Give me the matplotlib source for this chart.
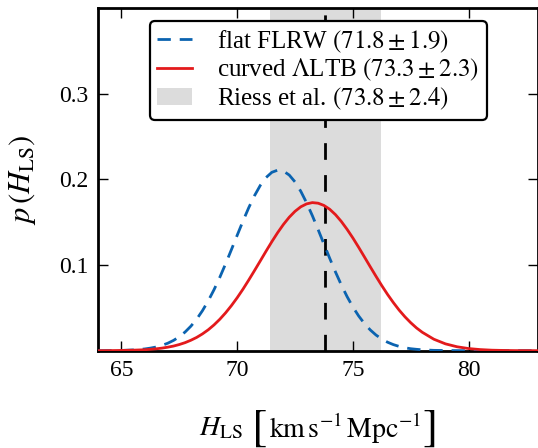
import matplotlib
matplotlib.use("Agg")
import matplotlib.pyplot as plt
from matplotlib.offsetbox import TextArea, HPacker, AnchoredOffsetbox

# values
h_grid = [64.0, 64.5, 65.0, 65.5,
          66.0, 66.25, 66.5, 66.75, 67.0, 67.25, 67.5, 67.75,
          68.0, 68.25, 68.5, 68.75, 69.0, 69.25, 69.5, 69.75,
          70.0, 70.25, 70.5, 70.75, 71.0, 71.25, 71.5, 71.75,
          72.0, 72.25, 72.5, 72.75, 73.0, 73.25, 73.5, 73.75,
          74.0, 74.25, 74.5, 74.75, 75.0, 75.25, 75.5, 75.75,
          76.0, 76.25, 76.5, 76.75, 77.0, 77.25, 77.5, 77.75,
          78.0, 78.5, 79.0, 79.5, 80.0, 80.5, 81.0, 81.5, 82.0, 82.5, 83.0]

p_flat = [0.0000, 0.0001, 0.0003, 0.0009,
          0.0020, 0.0030, 0.0043, 0.0062, 0.0087, 0.0120, 0.0163, 0.0218,
          0.0286, 0.0368, 0.0467, 0.0582, 0.0712, 0.0857, 0.1014, 0.1179,
          0.1347, 0.1513, 0.1670, 0.1811, 0.1931, 0.2023, 0.2084, 0.2109,
          0.2098, 0.2052, 0.1972, 0.1862, 0.1728, 0.1577, 0.1414, 0.1246,
          0.1079, 0.0919, 0.0769, 0.0632, 0.0511, 0.0406, 0.0317, 0.0243,
          0.0183, 0.0136, 0.0099, 0.0071, 0.0050, 0.0034, 0.0023, 0.0016,
          0.0010, 0.0004, 0.0002, 0.0001, 0.0000, 0.0000, 0.0000, 0.0000,
          0.0000, 0.0000, 0.0000]

p_curved = [0.0000, 0.0001, 0.0003, 0.0006,
            0.0011, 0.0016, 0.0022, 0.0030, 0.0041, 0.0054, 0.0072, 0.0094,
            0.0122, 0.0155, 0.0196, 0.0244, 0.0301, 0.0367, 0.0442, 0.0526,
            0.0618, 0.0718, 0.0825, 0.0936, 0.1049, 0.1163, 0.1274, 0.1379,
            0.1475, 0.1559, 0.1628, 0.1681, 0.1715, 0.1730, 0.1723, 0.1697,
            0.1652, 0.1589, 0.1510, 0.1418, 0.1317, 0.1208, 0.1095, 0.0981,
            0.0869, 0.0760, 0.0657, 0.0562, 0.0474, 0.0396, 0.0327, 0.0266,
            0.0215, 0.0134, 0.0080, 0.0046, 0.0025, 0.0013, 0.0006, 0.0003,
            0.0001, 0.0001, 0.0000]

riess_mean = 73.8
riess_sigma = 2.4

labels = [r"flat FLRW $(71.8 \pm 1.9)$",
          r"curved $\Lambda$LTB $(73.3 \pm 2.3)$",
          r"Riess et al. $(73.8 \pm 2.4)$"]

plt.rcParams["font.family"] = "serif"
plt.rcParams["font.serif"] = ["Liberation Serif", "DejaVu Serif"]
plt.rcParams["mathtext.fontset"] = "stix"

fig = plt.figure(figsize=(5.38, 4.48), dpi=100)
ax = fig.add_axes([0.1827, 0.2172, 0.8173, 0.7643])

ax.axvspan(riess_mean - riess_sigma, riess_mean + riess_sigma,
           color="#dcdcdc", lw=0, label=labels[2], zorder=1)
ax.axvline(riess_mean, color="k", lw=2, dashes=(6, 5.5), zorder=2)
ax.plot(h_grid, p_flat, color="#0b63b0", lw=2, dashes=(4.8, 3.2),
        label=labels[0], zorder=3)
ax.plot(h_grid, p_curved, color="#e31a1c", lw=2, label=labels[1], zorder=3)

ax.set_xlim(64, 83)
ax.set_ylim(0, 0.4)
ax.set_xticks([65, 70, 75, 80])
ax.set_yticks([0.1, 0.2, 0.3])
ax.tick_params(direction="in", top=True, right=True, length=7, width=1,
               labelsize=17, pad=7)
for s in ax.spines.values():
    s.set_linewidth(2)

ax.set_ylabel(r"$p\,(H_{\mathrm{LS}})$", fontsize=22, labelpad=15)

# x label with tall brackets
txt = dict(fontsize=20)
brk = dict(fontsize=33, family="STIXGeneral")
parts = [TextArea(r"$H_{\mathrm{LS}}$", textprops=txt),
         TextArea(" ", textprops=txt),
         TextArea("[", textprops=brk),
         TextArea(r"$\mathrm{km\,s^{-1}\,Mpc^{-1}}$", textprops=txt),
         TextArea("]", textprops=brk)]
xlab = HPacker(children=parts, align="center", pad=0, sep=1)
ax.add_artist(AnchoredOffsetbox(loc="center", child=xlab, frameon=False,
                                bbox_to_anchor=(0.5, -0.228),
                                bbox_transform=ax.transAxes, borderpad=0))

handles, labs = ax.get_legend_handles_labels()
order = [1, 2, 0]
leg = ax.legend([handles[i] for i in order], [labs[i] for i in order],
                loc="upper center", fontsize=18, fancybox=True, framealpha=1,
                edgecolor="k", handlelength=1.4, handletextpad=1.0,
                labelspacing=0.1, borderpad=0.3)
leg.get_frame().set_linewidth(1.6)

fig.savefig("out.png", dpi=100)
